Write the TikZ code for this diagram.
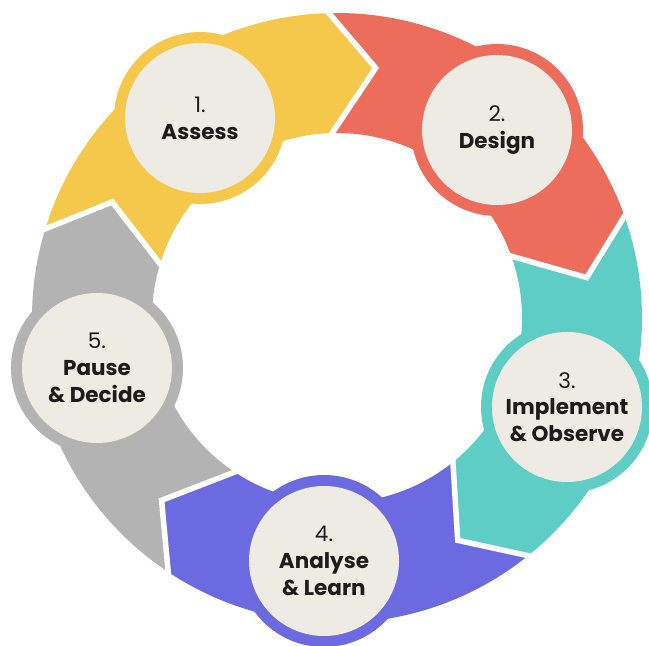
\documentclass[tikz,border=0pt]{standalone}
\usepackage{fontspec}
\setmainfont{Poppins}
\usetikzlibrary{calc}
\definecolor{cyel}{HTML}{F5C84B}
\definecolor{cred}{HTML}{EC6D5B}
\definecolor{cteal}{HTML}{5ECDC6}
\definecolor{cpurp}{HTML}{6C6AE0}
\definecolor{cgrey}{HTML}{B3B3B3}
\definecolor{cbeige}{HTML}{EDEBE3}
\definecolor{ctext}{HTML}{1C1C1C}
\tikzset{
  ringdisc/.style={circle, minimum size=172pt, inner sep=0pt},
  labeldisc/.style={circle, fill=cbeige, minimum size=150pt, inner sep=0pt,
    align=center, text=ctext, font=\fontsize{21.5}{26.7}\selectfont},
  gapline/.style={white, line width=5.5pt, line join=miter},
}
\newcommand\ringseg[3]{%
  \fill[#3] (#1:305) arc[start angle=#1, end angle=#2, radius=305]
    -- ({#2-10.3}:253) -- (#2:185)
    arc[start angle=#2, end angle=#1, radius=185]
    -- ({#1-10.3}:253) -- cycle;
}
\newcommand\ringgap[2]{%
  \coordinate (#2tip) at ({#1-10.3}:253);
  \coordinate (#2out) at (#1:305);
  \coordinate (#2in) at (#1:185);
  \draw[gapline] ($(#2tip)!1.2!(#2out)$) -- (#2tip) -- ($(#2tip)!1.2!(#2in)$);
}
\begin{document}
\begin{tikzpicture}[x=1pt, y=1pt]
\useasboundingbox (0,0) rectangle (649,646);
\clip (0,0) rectangle (649,646);
\begin{scope}[shift={(337,328)}]
  \ringseg{163}{91.5}{cyel}
  \ringseg{91.5}{19.5}{cred}
  \ringseg{19.5}{-51.2}{cteal}
  \ringseg{-51.2}{-123.6}{cpurp}
  \ringseg{-123.6}{-197}{cgrey}
  \ringgap{91.5}{ga}
  \ringgap{19.5}{gb}
  \ringgap{-51.2}{gc}
  \ringgap{-123.6}{gd}
  \ringgap{163}{ge}
\end{scope}
\node[ringdisc, fill=cyel] (r1) at (200,528) {};
\node[ringdisc, fill=cred] (r2) at (497,516) {};
\node[ringdisc, fill=cteal] (r3) at (567,239) {};
\node[ringdisc, fill=cpurp] (r4) at (324,85) {};
\node[ringdisc, fill=cgrey] (r5) at (97,278) {};
\node[labeldisc] (n1) at (r1) {1.\\\textbf{Assess}};
\node[labeldisc] (n2) at (r2) {2.\\\textbf{Design}};
\node[labeldisc] (n3) at (r3) {3.\\\textbf{Implement}\\\textbf{\& Observe}};
\node[labeldisc] (n4) at (r4) {4.\\\textbf{Analyse}\\\textbf{\& Learn}};
\node[labeldisc] (n5) at (r5) {5.\\\textbf{Pause}\\\textbf{\& Decide}};
\end{tikzpicture}
\end{document}
